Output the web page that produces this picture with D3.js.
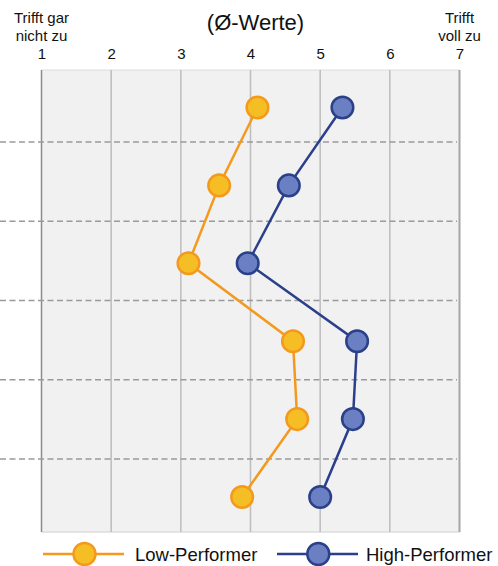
<!DOCTYPE html>
<html><head><meta charset="utf-8">
<script src="https://cdn.jsdelivr.net/npm/d3@7"></script>
<style>body{margin:0;background:#fff}svg{display:block;font-family:"Liberation Sans",Arial,sans-serif}</style>
</head><body><svg id="c" width="498" height="566"></svg>
<script>
const categories = ["A","B","C","D","E","F"];
const lowPerformer = [4.10, 3.55, 3.11, 4.61, 4.67, 3.88];
const highPerformer = [5.32, 4.55, 3.96, 5.53, 5.47, 5.00];
const xTicks = [1,2,3,4,5,6,7];
const seriesNames = ["Low-Performer","High-Performer"];

const svg = d3.select("#c");
const x = d3.scaleLinear().domain([1,7]).range([41.5,459.5]);
const yBand = d3.scaleBand().domain(categories).range([62.7,538.3]);
const yPt = d3.scalePoint().domain(categories).range([107.5,497]);
const plotTop = 70, plotBottom = 532;

// plot background
svg.append("rect").attr("x",x(1)).attr("y",plotTop).attr("width",x(7)-x(1)).attr("height",plotBottom-plotTop).attr("fill","#f1f1f1");
svg.append("line").attr("x1",x(1)).attr("x2",x(7)).attr("y1",plotTop).attr("y2",plotTop).attr("stroke","#dcdcdc").attr("stroke-width",1);
svg.append("line").attr("x1",x(1)).attr("x2",x(7)).attr("y1",plotBottom).attr("y2",plotBottom).attr("stroke","#dcdcdc").attr("stroke-width",1.5);

// vertical grid
svg.append("g").selectAll("line").data(xTicks).join("line")
  .attr("x1",d=>x(d)).attr("x2",d=>x(d)).attr("y1",plotTop).attr("y2",plotBottom)
  .attr("stroke",d=> (d===1? "#8c8c8c" : d===7 ? "#a6a6a6" : "#bdbdbd"))
  .attr("stroke-width",d=> d===7?2:1.5);

// horizontal dashed separators
const seps = categories.slice(1).map(c=>yBand(c));
svg.append("g").selectAll("line").data(seps).join("line")
  .attr("x1",0).attr("x2",457).attr("y1",d=>d).attr("y2",d=>d)
  .attr("stroke","#9a9a9a").attr("stroke-width",1.5).attr("stroke-dasharray","6,3.5");

// top axis tick labels
const xAxis = d3.axisTop(x).tickValues(xTicks).tickFormat(d3.format("d")).tickSize(0).tickPadding(0);
const gx = svg.append("g").attr("transform","translate(0,59)").call(xAxis);
gx.select(".domain").remove();
gx.attr("font-family",null);
gx.selectAll("text").attr("font-size",15).attr("fill","#111");

// header texts
const hdr = svg.append("g").attr("font-size",15).attr("fill","#111").attr("text-anchor","middle");
hdr.append("text").attr("x",x(1)).attr("y",23).text("Trifft gar");
hdr.append("text").attr("x",x(1)).attr("y",41).text("nicht zu");
hdr.append("text").attr("x",x(7)).attr("y",23).text("Trifft");
hdr.append("text").attr("x",x(7)).attr("y",41).text("voll zu");
svg.append("text").attr("x",x(4)+5).attr("y",30).attr("text-anchor","middle").attr("font-size",22).attr("fill","#111").text("(Ø-Werte)");

const styles = [
  {data: lowPerformer, line:"#f39a1e", fill:"#f6be25", stroke:"#f39a1e"},
  {data: highPerformer, line:"#2b3f8a", fill:"#6b7fc3", stroke:"#2a4088"}
];
const lineGen = d3.line().x(d=>x(d.v)).y(d=>yPt(d.c));
styles.forEach(s=>{
  const pts = s.data.map((v,i)=>({v, c:categories[i]}));
  svg.append("path").datum(pts).attr("d",lineGen).attr("fill","none").attr("stroke",s.line).attr("stroke-width",2.5);
  svg.append("g").selectAll("circle").data(pts).join("circle")
    .attr("cx",d=>x(d.v)).attr("cy",d=>yPt(d.c)).attr("r",10.8)
    .attr("fill",s.fill).attr("stroke",s.stroke).attr("stroke-width",2.5);
});

// legend
const legPos = [{x1:43,x2:124,cx:84.5,tx:135},{x1:277,x2:358,cx:318.3,tx:366}];
const ly = 554;
seriesNames.forEach((n,i)=>{
  const p = legPos[i], s = styles[i];
  svg.append("line").attr("x1",p.x1).attr("x2",p.x2).attr("y1",ly).attr("y2",ly).attr("stroke",s.line).attr("stroke-width",2.5);
  svg.append("circle").attr("cx",p.cx).attr("cy",ly).attr("r",11).attr("fill",s.fill).attr("stroke",s.stroke).attr("stroke-width",2.5);
  svg.append("text").attr("x",p.tx).attr("y",ly+6.5).attr("font-size",18.5).attr("fill","#111").text(n);
});
</script></body></html>
